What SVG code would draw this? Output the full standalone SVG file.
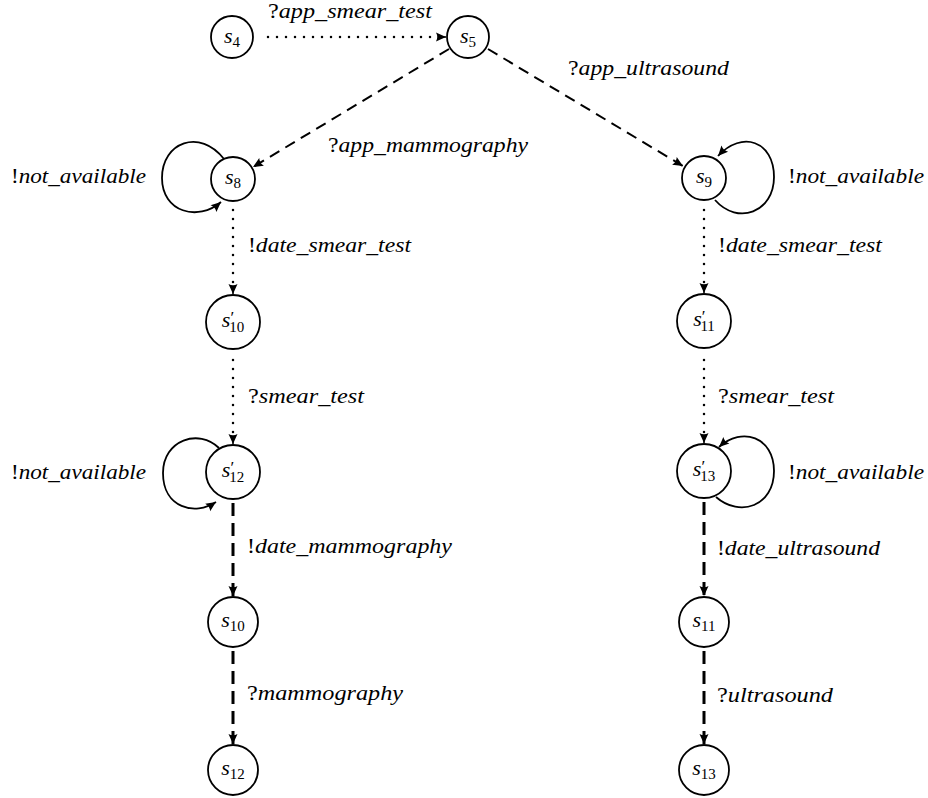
<svg xmlns="http://www.w3.org/2000/svg" width="928" height="798" viewBox="0 0 928 798">
<style>
.node circle{fill:#fff;stroke:#000;stroke-width:1.8}
.nl{font-family:"Liberation Serif",serif;font-size:22px;text-anchor:middle}
.it{font-style:italic}
.sub{font-size:15px;font-style:normal}
.pr{font-size:17px;font-style:normal}
.lbl{font-family:"Liberation Serif",serif;font-size:21px;font-style:italic}
.up{font-style:normal}
.dot{fill:none;stroke:#000;stroke-width:2.5;stroke-linecap:round;stroke-dasharray:0 9}
.dsh{fill:none;stroke:#000;stroke-width:2;stroke-dasharray:11 7}
.thk{fill:none;stroke:#000;stroke-width:3;stroke-dasharray:13 7}
.loop{fill:none;stroke:#000;stroke-width:1.8}
</style>
<defs>
<marker id="ah" markerUnits="userSpaceOnUse" markerWidth="14" markerHeight="12" viewBox="-11 -6 12 12" refX="0" refY="0" orient="auto">
<path d="M0,0 L-10,-4.5 Q-7.5,0 -10,4.5 Z" fill="#000"/>
</marker>
</defs>
<g id="connectors">
<line class="dot" x1="268" y1="37" x2="442" y2="37"/>
<line x1="440" y1="37" x2="446" y2="37" stroke="#000" stroke-width="1.5" marker-end="url(#ah)"/>
<line class="dsh" x1="449" y1="49" x2="253" y2="167" marker-end="url(#ah)"/>
<line class="dsh" x1="488" y1="49" x2="683" y2="166" marker-end="url(#ah)"/>
<path class="loop" d="M224,159 C200,128 162,142 162,178 C162,212 198,222 221,202" marker-end="url(#ah)"/>
<path class="loop" d="M715,200 C738,226 774,212 774,177 C774,141 742,130 718,156" marker-end="url(#ah)"/>
<line class="dot" x1="233" y1="210" x2="233" y2="288"/>
<line x1="233" y1="287" x2="233" y2="294" stroke="#000" stroke-width="1.5" marker-end="url(#ah)"/>
<line class="dot" x1="704" y1="210" x2="704" y2="288"/>
<line x1="704" y1="286" x2="704" y2="293" stroke="#000" stroke-width="1.5" marker-end="url(#ah)"/>
<line class="dot" x1="233" y1="360" x2="233" y2="437"/>
<line x1="233" y1="437" x2="233" y2="444" stroke="#000" stroke-width="1.5" marker-end="url(#ah)"/>
<line class="dot" x1="704" y1="360" x2="704" y2="436"/>
<line x1="704" y1="436" x2="704" y2="443" stroke="#000" stroke-width="1.5" marker-end="url(#ah)"/>
<path class="loop" d="M219,448 C199,428 163,440 163,473 C163,508 195,516 216,502" marker-end="url(#ah)"/>
<path class="loop" d="M716,497 C740,518 774,506 774,471 C774,437 742,426 719,447" marker-end="url(#ah)"/>
<line class="thk" x1="233" y1="503" x2="233" y2="596" marker-end="url(#ah)"/>
<line class="thk" x1="704" y1="502" x2="704" y2="596" marker-end="url(#ah)"/>
<line class="thk" x1="233" y1="651" x2="233" y2="744" marker-end="url(#ah)"/>
<line class="thk" x1="704" y1="651" x2="704" y2="744" marker-end="url(#ah)"/>
</g>
<g id="labels">
<text class="lbl" x="268" y="18" textLength="164" lengthAdjust="spacingAndGlyphs"><tspan class="up">?</tspan>app_smear_test</text>
<text class="lbl" x="568" y="75" textLength="161" lengthAdjust="spacingAndGlyphs"><tspan class="up">?</tspan>app_ultrasound</text>
<text class="lbl" x="328" y="152" textLength="200" lengthAdjust="spacingAndGlyphs"><tspan class="up">?</tspan>app_mammography</text>
<text class="lbl" x="11" y="183" textLength="135" lengthAdjust="spacingAndGlyphs"><tspan class="up">!</tspan>not_available</text>
<text class="lbl" x="788" y="183" textLength="136" lengthAdjust="spacingAndGlyphs"><tspan class="up">!</tspan>not_available</text>
<text class="lbl" x="248" y="252" textLength="163" lengthAdjust="spacingAndGlyphs"><tspan class="up">!</tspan>date_smear_test</text>
<text class="lbl" x="718" y="252" textLength="164" lengthAdjust="spacingAndGlyphs"><tspan class="up">!</tspan>date_smear_test</text>
<text class="lbl" x="248" y="403" textLength="116" lengthAdjust="spacingAndGlyphs"><tspan class="up">?</tspan>smear_test</text>
<text class="lbl" x="718" y="403" textLength="116" lengthAdjust="spacingAndGlyphs"><tspan class="up">?</tspan>smear_test</text>
<text class="lbl" x="11" y="479" textLength="135" lengthAdjust="spacingAndGlyphs"><tspan class="up">!</tspan>not_available</text>
<text class="lbl" x="788" y="479" textLength="136" lengthAdjust="spacingAndGlyphs"><tspan class="up">!</tspan>not_available</text>
<text class="lbl" x="247" y="553" textLength="205" lengthAdjust="spacingAndGlyphs"><tspan class="up">!</tspan>date_mammography</text>
<text class="lbl" x="717" y="555" textLength="163" lengthAdjust="spacingAndGlyphs"><tspan class="up">!</tspan>date_ultrasound</text>
<text class="lbl" x="247" y="700" textLength="156" lengthAdjust="spacingAndGlyphs"><tspan class="up">?</tspan>mammography</text>
<text class="lbl" x="717" y="702" textLength="116" lengthAdjust="spacingAndGlyphs"><tspan class="up">?</tspan>ultrasound</text>
</g>
<g id="s4" class="node"><circle cx="232" cy="37" r="21"/><text class="nl" x="232" y="43"><tspan class="it">s</tspan><tspan class="sub" dy="4">4</tspan></text></g>
<g id="s5" class="node"><circle cx="468" cy="37" r="21"/><text class="nl" x="468" y="43"><tspan class="it">s</tspan><tspan class="sub" dy="4">5</tspan></text></g>
<g id="s8" class="node"><circle cx="233" cy="179" r="22"/><text class="nl" x="233" y="184"><tspan class="it">s</tspan><tspan class="sub" dy="4">8</tspan></text></g>
<g id="s9" class="node"><circle cx="704" cy="178" r="22"/><text class="nl" x="704" y="183"><tspan class="it">s</tspan><tspan class="sub" dy="4">9</tspan></text></g>
<g id="s10p" class="node"><circle cx="233" cy="322" r="27"/><text class="nl" x="233" y="327"><tspan class="it">s</tspan><tspan class="pr" dy="-4">′</tspan><tspan class="sub" dx="-5" dy="9">10</tspan></text></g>
<g id="s11p" class="node"><circle cx="704" cy="321" r="27"/><text class="nl" x="704" y="326"><tspan class="it">s</tspan><tspan class="pr" dy="-4">′</tspan><tspan class="sub" dx="-5" dy="9">11</tspan></text></g>
<g id="s12p" class="node"><circle cx="233" cy="472" r="27"/><text class="nl" x="233" y="477"><tspan class="it">s</tspan><tspan class="pr" dy="-4">′</tspan><tspan class="sub" dx="-5" dy="9">12</tspan></text></g>
<g id="s13p" class="node"><circle cx="704" cy="471" r="27"/><text class="nl" x="704" y="476"><tspan class="it">s</tspan><tspan class="pr" dy="-4">′</tspan><tspan class="sub" dx="-5" dy="9">13</tspan></text></g>
<g id="s10" class="node"><circle cx="233" cy="622" r="25"/><text class="nl" x="233" y="627"><tspan class="it">s</tspan><tspan class="sub" dy="4">10</tspan></text></g>
<g id="s11" class="node"><circle cx="704" cy="622" r="25"/><text class="nl" x="704" y="627"><tspan class="it">s</tspan><tspan class="sub" dy="4">11</tspan></text></g>
<g id="s12" class="node"><circle cx="233" cy="770" r="25"/><text class="nl" x="233" y="775"><tspan class="it">s</tspan><tspan class="sub" dy="4">12</tspan></text></g>
<g id="s13" class="node"><circle cx="704" cy="770" r="25"/><text class="nl" x="704" y="775"><tspan class="it">s</tspan><tspan class="sub" dy="4">13</tspan></text></g>
</svg>
